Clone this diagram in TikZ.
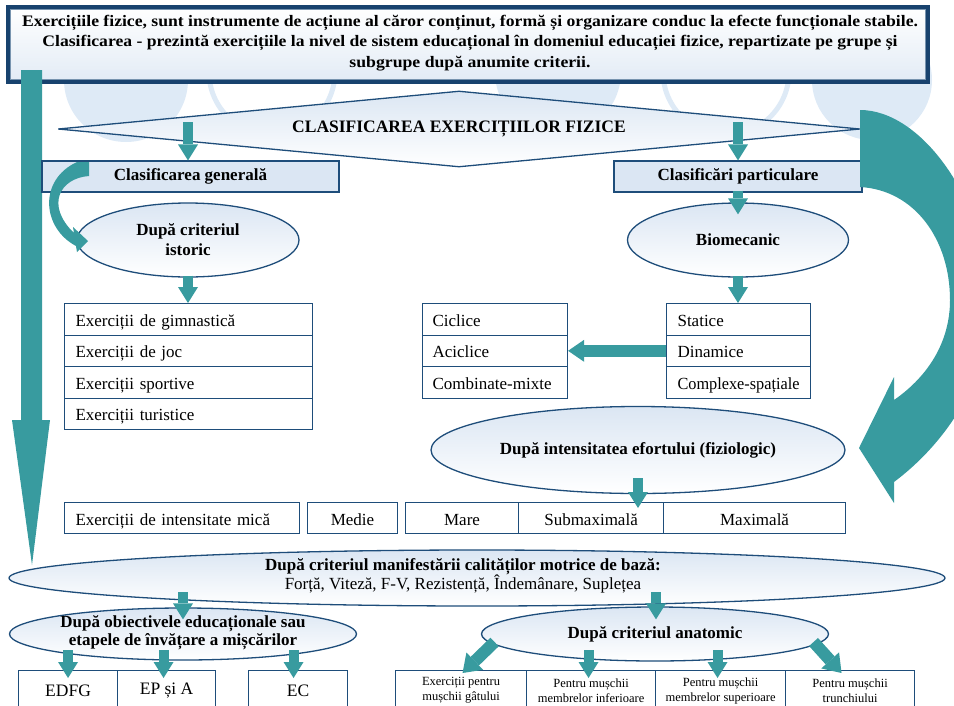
\documentclass[tikz,border=0pt]{standalone}
\usepackage{fontspec}
\setmainfont{Liberation Serif}
\usepackage{graphicx}
\usetikzlibrary{shapes.geometric,arrows.meta,calc}
\definecolor{teal1}{RGB}{56,155,159}
\definecolor{navy}{RGB}{30,77,122}
\definecolor{hdrnavy}{RGB}{24,66,110}
\definecolor{lb}{RGB}{219,230,243}
\definecolor{circ}{RGB}{222,234,246}
\tikzset{
  box/.style={draw=navy,line width=1.1pt,fill=white,inner sep=0pt,anchor=north west,
    text height=15pt,text depth=1pt},
  lbox/.style={box,font=\fontsize{17}{19}\selectfont,align=left,inner xsep=11pt,minimum height=31.5pt},
  cbox/.style={box,font=\fontsize{17}{19}\selectfont,align=center,minimum height=31pt},
  sbox/.style={draw=navy,line width=1.1pt,fill=white,inner sep=0pt,anchor=north west,
    font=\fontsize{12.5}{15}\selectfont,align=center,minimum height=40pt},
  hbox/.style={draw=navy,line width=1.1pt,fill=lb,inner sep=0pt,minimum height=31pt,
    font=\fontsize{17}{19}\selectfont\bfseries},
  ell/.style={ellipse,draw=navy,line width=1.3pt,top color=lb,bottom color=white,inner sep=0pt,
    align=center,font=\fontsize{17}{20}\selectfont\bfseries},
  ar/.style={draw=teal1,line width=10pt,-{Triangle[length=16pt,width=20pt,line width=0pt]}},
  arw/.style={draw=teal1,line width=12pt,-{Triangle[length=17pt,width=24pt,line width=0pt]}},
  ring/.style={draw=circ,line width=5pt,fill=white},
}
\begin{document}
\begin{tikzpicture}[x=1pt,y=-1pt]
\useasboundingbox (0,0) rectangle (954,705);
% background circles
\fill[circ] (126,80) circle[radius=62pt];
\draw[ring] (272,72) circle[radius=63pt];
\fill[circ] (558,72) circle[radius=63pt];
\draw[ring] (726,72) circle[radius=63pt];
\fill[circ] (872,80) circle[radius=60pt];
% header
\node[draw=hdrnavy,line width=4.5pt,top color=white,bottom color=lb!80,minimum width=920pt,
  minimum height=75pt,inner sep=0pt] (hdr) at (468,44.5) {};
\draw[navy!60,line width=0.6pt] ($(hdr.north west)+(4.5,4.5)$) rectangle ($(hdr.south east)+(-4.5,-4.5)$);
\node[font=\fontsize{16}{20.5}\selectfont\bfseries,align=center,inner sep=0pt] (hdrt) at (470,43)
 {\resizebox{896pt}{\height}{Exercițiile fizice, sunt instrumente de acțiune al căror conținut, formă și organizare conduc la efecte funcționale stabile.}\\
  \resizebox{855pt}{\height}{Clasificarea - prezintă exercițiile la nivel de sistem educațional în domeniul educației fizice, repartizate pe grupe și}\\
  \resizebox{241pt}{\height}{subgrupe după anumite criterii.}};
% big left arrow
\fill[teal1] (21,70) -- (42,70) -- (42,420) -- (50,420) -- (32,565) -- (12,420) -- (21,420) -- cycle;
% diamond
\node[diamond,draw=navy,line width=1.3pt,top color=lb,bottom color=white,minimum width=802pt,
  minimum height=76pt,inner sep=0pt,aspect=10.5,font=\fontsize{17.5}{20}\selectfont\bfseries]
  (dia) at (459,129) {CLASIFICAREA EXERCIȚIILOR FIZICE};
% level 1 boxes
\node[hbox,minimum width=297pt] (gen) at (190.5,176.5) {Clasificarea generală};
\node[hbox,minimum width=248pt] (part) at (738,176.5) {Clasificări particulare};
% ellipses
\node[ell,minimum width=222pt,minimum height=74pt] (ist) at (188,240) {După criteriul\\istoric};
\node[ell,minimum width=221pt,minimum height=74pt] (bio) at (738,240) {Biomecanic};
% history list
\node[lbox,text width=226pt] (h1) at (64,303) {Exerciții de gimnastică};
\node[lbox,text width=226pt] (h2) at (64,334.5) {Exerciții de joc};
\node[lbox,text width=226pt] (h3) at (64,366) {Exerciții sportive};
\node[lbox,text width=226pt] (h4) at (64,397.5) {Exerciții turistice};
% cyclic list
\node[lbox,inner xsep=10pt,text width=125pt] (c1) at (422,303) {Ciclice};
\node[lbox,inner xsep=10pt,text width=125pt] (c2) at (422,334.5) {Aciclice};
\node[lbox,inner xsep=10pt,text width=125pt] (c3) at (422,366) {Combinate-mixte};
% static list
\node[lbox,inner xsep=11pt,text width=122pt] (s1) at (666,303) {Statice};
\node[lbox,inner xsep=11pt,text width=122pt] (s2) at (666,334.5) {Dinamice};
\node[lbox,inner xsep=11pt,text width=122pt] (s3) at (666,366) {\resizebox{122pt}{\height}{Complexe-spațiale}};
% effort
\node[ell,minimum width=414pt,minimum height=87pt] (eff) at (638,450) {După intensitatea efortului (fiziologic)};
\node[lbox,text width=213pt,minimum height=31pt] (mica) at (64,502) {Exerciții de intensitate mică};
\node[cbox,minimum width=90pt] (medie) at (307,502) {Medie};
\node[cbox,minimum width=113pt] (mare) at (405,502) {Mare};
\node[cbox,minimum width=145pt] (submax) at (518,502) {Submaximală};
\node[cbox,minimum width=182pt] (maxim) at (663,502) {Maximală};
% motor qualities
\node[ell,minimum width=936pt,minimum height=56pt] (mot) at (477,578) {};
\node[align=center,inner sep=0pt,font=\fontsize{17}{19}\selectfont] (mott) at (463,575.5)
  {\textbf{După criteriul manifestării calităților motrice de bază:}\\Forță, Viteză, F-V, Rezistență, Îndemânare, Suplețea};
% objectives
\node[ell,minimum width=347pt,minimum height=52pt] (obi) at (183,634) {};
\node[align=center,inner sep=0pt,font=\fontsize{17}{18}\selectfont\bfseries] (obit) at (183,633)
  {După obiectivele educaționale sau\\etapele de învățare a mișcărilor};
\node[ell,minimum width=347pt,minimum height=54pt] (ana) at (655,634) {După criteriul anatomic};
% bottom boxes
\node[sbox,minimum width=99pt,font=\fontsize{17.5}{20}\selectfont] (edfg) at (18,670) {EDFG};
\node[sbox,minimum width=98pt,font=\fontsize{17.5}{20}\selectfont] (epa) at (117,670) {EP și A};
\node[sbox,minimum width=99pt,font=\fontsize{17.5}{20}\selectfont] (ec) at (248,670) {EC};
\node[sbox,minimum width=131pt] (a1) at (395,670) {Exerciții pentru\\mușchii gâtului};
\node[sbox,minimum width=129pt] (a2) at (526,670) {Pentru mușchii\\membrelor inferioare};
\node[sbox,minimum width=130pt] (a3) at (655,670) {Pentru mușchii\\membrelor superioare};
\node[sbox,minimum width=129pt] (a4) at (785,670) {Pentru mușchii\\trunchiului};
% arrows
\draw[ar] ($(gen.north)+(-2.5,-38)$) -- ($(gen.north)+(-2.5,0)$);
\draw[ar] ($(part.north)+(0,-38)$) -- (part.north);
\draw[ar] ($(part.south)+(0,-2)$) -- ($(bio.north)+(0,12)$);
\draw[ar] ($(ist.south)+(0,-2)$) -- (ist.south |- h1.north);
\draw[ar] ($(bio.south)+(0,-2)$) -- (bio.south |- s1.north);
\draw[draw=teal1,line width=12pt,-{Triangle[length=16pt,width=22pt,line width=0pt]}] (s2.west) -- (c2.east);
\draw[ar] ($(eff.south)+(0,-16)$) -- ($(eff.south |- submax.north)+(0,6)$);
\draw[ar] ($(obi.north)+(0,-15)$) -- ($(obi.north)+(0,12)$);
\draw[ar] ($(ana.north)+(1,-14)$) -- ($(ana.north)+(1,13)$);
\draw[ar] ($(edfg.north)+(0,-20)$) -- ($(edfg.north)+(0,8)$);
\draw[ar] ($(epa.north)+(-3,-20)$) -- ($(epa.north)+(-3,8)$);
\draw[ar] ($(ec.north)+(-4.5,-20)$) -- ($(ec.north)+(-4.5,8)$);
\draw[arw] ($(a1.north)+(33.5,-28)$) -- ($(a1.north)+(1.5,3)$);
\draw[ar] ($(a2.north)+(-2.5,-20)$) -- ($(a2.north)+(-2.5,8)$);
\draw[ar] ($(a3.north)+(-3,-20)$) -- ($(a3.north)+(-3,8)$);
\draw[arw] ($(a4.north)+(-36.5,-28)$) -- ($(a4.north)+(-8.5,3)$);
% left curved arrow
\fill[teal1] (89,162) -- (89,176) .. controls (60,178) and (45,205) .. (74,233) -- (73,227) -- (88,241)
  -- (77,252) -- (76,246) .. controls (42,228) and (38,180) .. (77,162) -- cycle;
% right big curved arrow
\fill[teal1] (860,110) .. controls (920,110) and (982,195) .. (990,290)
  .. controls (995,370) and (950,440) .. (894,482) -- (894,503) -- (859,448) -- (894,377) -- (894,400)
  .. controls (930,375) and (950,340) .. (950,300) .. controls (950,240) and (915,190) .. (860,187) -- cycle;
\end{tikzpicture}
\end{document}
